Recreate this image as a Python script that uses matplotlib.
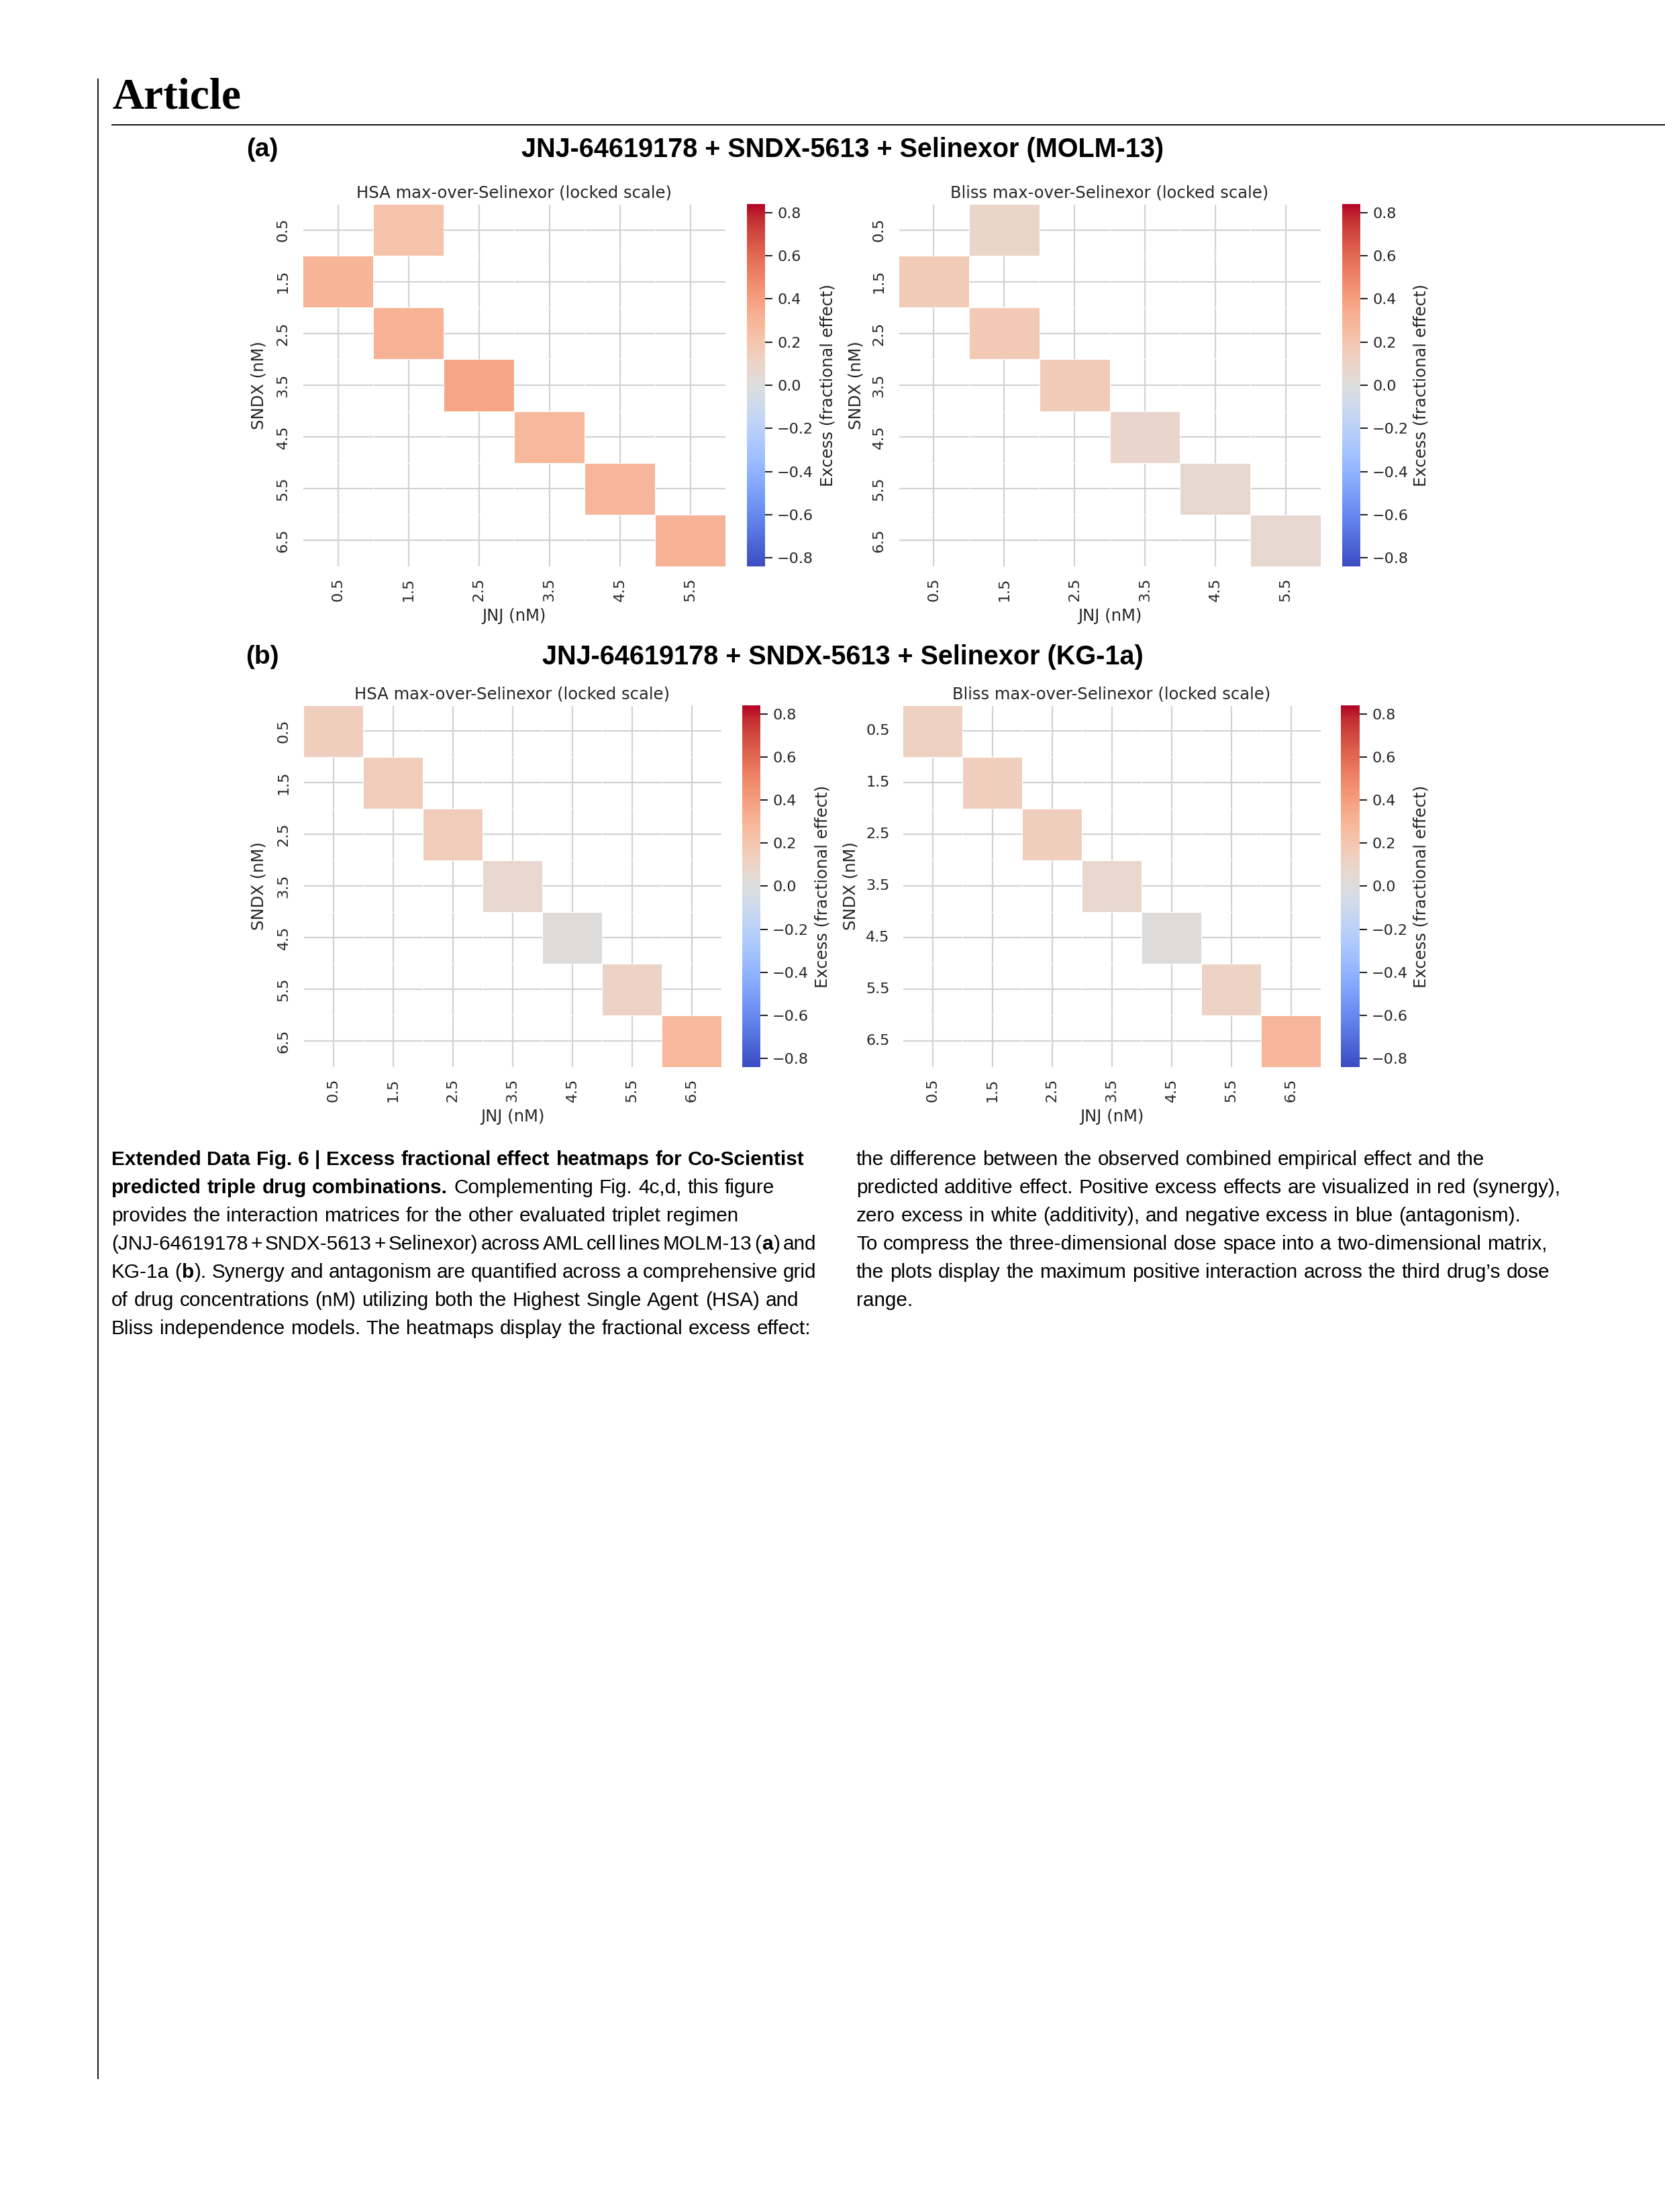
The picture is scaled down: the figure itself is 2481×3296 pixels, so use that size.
import re
import numpy as np
import matplotlib
matplotlib.use("Agg")
import matplotlib.pyplot as plt
from matplotlib.lines import Line2D

# page size in pixels (dpi 100)
W, H = 2481, 3296
DPI = 100

nan = np.nan
# doses (nM)
jnj_molm13 = [0.5, 1.5, 2.5, 3.5, 4.5, 5.5]
jnj_kg1a = [0.5, 1.5, 2.5, 3.5, 4.5, 5.5, 6.5]
sndx = [0.5, 1.5, 2.5, 3.5, 4.5, 5.5, 6.5]

# excess fractional effect, rows = SNDX, cols = JNJ (max over Selinexor)
hsa_molm13 = [
    [nan, 0.22, nan, nan, nan, nan],
    [0.30, nan, nan, nan, nan, nan],
    [nan, 0.31, nan, nan, nan, nan],
    [nan, nan, 0.37, nan, nan, nan],
    [nan, nan, nan, 0.28, nan, nan],
    [nan, nan, nan, nan, 0.29, nan],
    [nan, nan, nan, nan, nan, 0.31],
]
bliss_molm13 = [
    [nan, 0.09, nan, nan, nan, nan],
    [0.17, nan, nan, nan, nan, nan],
    [nan, 0.18, nan, nan, nan, nan],
    [nan, nan, 0.17, nan, nan, nan],
    [nan, nan, nan, 0.08, nan, nan],
    [nan, nan, nan, nan, 0.06, nan],
    [nan, nan, nan, nan, nan, 0.06],
]
hsa_kg1a_diag = [0.14, 0.145, 0.145, 0.07, 0.01, 0.11, 0.28]
bliss_kg1a_diag = [0.13, 0.14, 0.14, 0.07, 0.01, 0.11, 0.29]

vlim = 0.84
cbar_ticks = [-0.8, -0.6, -0.4, -0.2, 0.0, 0.2, 0.4, 0.6, 0.8]

titles = ["HSA max-over-Selinexor (locked scale)",
          "Bliss max-over-Selinexor (locked scale)"]
suptitle_a = "JNJ-64619178 + SNDX-5613 + Selinexor (MOLM-13)"
suptitle_b = "JNJ-64619178 + SNDX-5613 + Selinexor (KG-1a)"

caption_left = [
    [("Extended Data Fig. 6 | Excess fractional effect heatmaps for Co-Scientist", True)],
    [("predicted triple drug combinations.", True), (" Complementing Fig. 4c,d, this figure", False)],
    [("provides the interaction matrices for the other evaluated triplet regimen", False)],
    [("(JNJ-64619178 + SNDX-5613 + Selinexor) across AML cell lines MOLM-13 (", False),
     ("a", True), (") and", False)],
    [("KG-1a (", False), ("b", True),
     ("). Synergy and antagonism are quantified across a comprehensive grid", False)],
    [("of drug concentrations (nM) utilizing both the Highest Single Agent (HSA) and", False)],
    [("Bliss independence models. The heatmaps display the fractional excess effect:", False)],
]
caption_right = [
    [("the difference between the observed combined empirical effect and the", False)],
    [("predicted additive effect. Positive excess effects are visualized in red (synergy),", False)],
    [("zero excess in white (additivity), and negative excess in blue (antagonism).", False)],
    [("To compress the three-dimensional dose space into a two-dimensional matrix,", False)],
    [("the plots display the maximum positive interaction across the third drug\u2019s dose", False)],
    [("range.", False)],
]

GRAY = "#262626"


def rect(x0, y0, x1, y1):
    return [x0 / W, 1 - y1 / H, (x1 - x0) / W, (y1 - y0) / H]


def fx(x):
    return x / W


def fy(y):
    return 1 - y / H


fig = plt.figure(figsize=(W / DPI, H / DPI), dpi=DPI)
fig.patch.set_facecolor("white")


def heatmap(box, cbox, data, xlabels, ylabels, title, yrot, label_x, cbar_label_x):
    ax = fig.add_axes(rect(*box))
    data = np.ma.masked_invalid(np.array(data, dtype=float))
    nrow, ncol = data.shape
    mesh = ax.pcolormesh(np.arange(ncol + 1), np.arange(nrow + 1), data,
                         cmap="coolwarm", vmin=-vlim, vmax=vlim,
                         edgecolors="white", linewidth=0.6, zorder=2)
    ax.set_xlim(0, ncol)
    ax.set_ylim(nrow, 0)
    ax.set_xticks(np.arange(ncol) + 0.5)
    ax.set_yticks(np.arange(nrow) + 0.5)
    ax.set_xticklabels([f"{v:.1f}" for v in xlabels], rotation=90)
    ax.set_yticklabels([f"{v:.1f}" for v in ylabels], rotation=yrot, va="center")
    ax.tick_params(axis="both", length=0, labelsize=16, labelcolor=GRAY)
    ax.tick_params(axis="y", pad=14)
    ax.tick_params(axis="x", pad=12)
    ax.set_axisbelow(True)
    ax.grid(True, color="#d2d2d2", linewidth=1.6, zorder=0)
    for s in ax.spines.values():
        s.set_visible(False)
    ax.set_title(title, fontsize=17.5, color=GRAY, pad=7)

    # axis labels centred at measured positions
    x0, y0, x1, y1 = box
    fig.text(fx(label_x), fy((y0 + y1) / 2), "SNDX (nM)", rotation=90,
             ha="center", va="center", fontsize=17.5, color=GRAY)
    fig.text(fx((x0 + x1) / 2), fy(y1 + 74), "JNJ (nM)",
             ha="center", va="center", fontsize=17.5, color=GRAY)

    cax = fig.add_axes(rect(*cbox))
    cb = fig.colorbar(mesh, cax=cax)
    cb.outline.set_visible(False)
    cb.set_ticks(cbar_ticks)
    cax.tick_params(labelsize=16, length=8, width=1.5, color=GRAY,
                    labelcolor=GRAY, pad=5)
    fig.text(fx(cbar_label_x), fy((y0 + y1) / 2), "Excess (fractional effect)",
             rotation=90, ha="center", va="center", fontsize=17.5, color=GRAY)
    return ax


def diag(values):
    n = len(values)
    m = np.full((n, n), nan)
    for i, v in enumerate(values):
        m[i, i] = v
    return m


# panel (a)
heatmap((451, 304, 1081, 844), (1113, 304, 1140, 844), hsa_molm13,
        jnj_molm13, sndx, titles[0], 90, 386, 1234)
heatmap((1339, 304, 1968, 844), (2000, 304, 2027, 844), bliss_molm13,
        jnj_molm13, sndx, titles[1], 90, 1276, 2118)
# panel (b)
heatmap((452, 1051, 1075, 1590), (1106, 1051, 1133, 1590), diag(hsa_kg1a_diag),
        jnj_kg1a, sndx, titles[0], 90, 386, 1226)
heatmap((1345, 1051, 1968, 1590), (1998, 1051, 2026, 1590), diag(bliss_kg1a_diag),
        jnj_kg1a, sndx, titles[1], 0, 1268, 2118)

bold_sans = dict(family="Liberation Sans", fontweight="bold", color="black")
fig.text(fx(391), fy(223), "(a)", ha="center", va="center", fontsize=28, **bold_sans)
fig.text(fx(1256), fy(223), suptitle_a, ha="center", va="center", fontsize=28.5, **bold_sans)
fig.text(fx(391), fy(979), "(b)", ha="center", va="center", fontsize=28, **bold_sans)
fig.text(fx(1256), fy(979), suptitle_b, ha="center", va="center", fontsize=28.5, **bold_sans)

# page header and rules
fig.text(fx(167), fy(162), "Article", ha="left", va="baseline", fontsize=47,
         family="Liberation Serif", fontweight="bold", color="black")
fig.add_artist(Line2D([fx(167), 1.0], [fy(186), fy(186)], color="black", linewidth=1.3))
fig.add_artist(Line2D([fx(146), fx(146)], [fy(118), fy(3097)], color="black", linewidth=1.3))

# caption, drawn word by word so bold and regular runs follow each other
CAP_FS = 21.4
COL_W = 1051
renderer = fig.canvas.get_renderer()
space_px = 0.26 * CAP_FS * DPI / 72


def caption_line(x_px, base_px, parts):
    words = []  # (text artist, space before)
    gap = False
    for text, bold in parts:
        for tok in re.split(r"( )", text):
            if tok == "":
                continue
            if tok == " ":
                gap = True
                continue
            t = fig.text(0, fy(base_px), tok, ha="left", va="baseline",
                         fontsize=CAP_FS, family="Liberation Sans",
                         fontweight="bold" if bold else "normal", color="black")
            words.append((t, t.get_window_extent(renderer).width + 1, gap))
            gap = False
    n_gaps = sum(1 for _, _, g in words if g)
    ink = sum(w for _, w, _ in words)
    sp = space_px
    if n_gaps and ink + n_gaps * sp > COL_W:
        sp = (COL_W - ink) / n_gaps
    x = x_px
    for t, w, g in words:
        if g:
            x += sp
        t.set_x(fx(x))
        x += w


for i, parts in enumerate(caption_left):
    caption_line(166, 1736 + 42 * i, parts)
for i, parts in enumerate(caption_right):
    caption_line(1276, 1736 + 42 * i, parts)

fig.savefig("out.png", dpi=DPI, facecolor="white")
